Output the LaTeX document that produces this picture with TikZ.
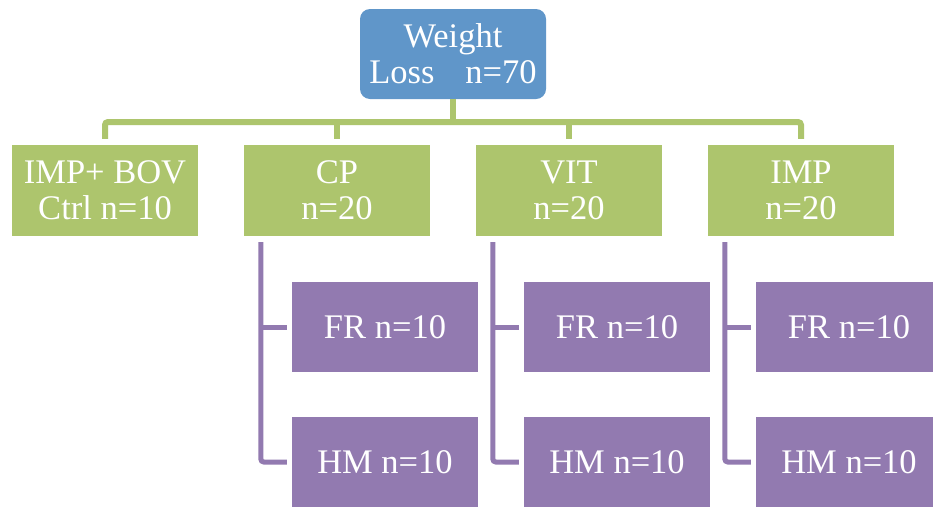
\documentclass[tikz,border=0pt]{standalone}
\usepackage{fontspec}
\setmainfont{Liberation Serif}
\definecolor{topblue}{RGB}{96,150,201}
\definecolor{boxgreen}{RGB}{173,197,109}
\definecolor{boxpurple}{RGB}{146,122,176}
\tikzset{
  txt/.style={text=white, align=center, inner sep=0pt, font=\fontsize{34.5}{36}\selectfont},
  topbox/.style={txt, fill=topblue, rounded corners=10pt, minimum width=186pt, minimum height=90pt},
  greenbox/.style={txt, fill=boxgreen, minimum width=186pt, minimum height=91pt},
  purplebox/.style={txt, fill=boxpurple, minimum width=186pt, minimum height=90pt},
  gline/.style={draw=boxgreen, line width=6pt, rounded corners=3pt},
  pline/.style={draw=boxpurple, line width=5pt, rounded corners=3pt},
}
\begin{document}
\begin{tikzpicture}[x=1pt,y=-1pt]
\clip (0,0) rectangle (933,507);
\fill[white] (0,0) rectangle (933,507);
\node[topbox] (top) at (453,54) {Weight\\Loss\hspace{0.9em}n=70};
\node[greenbox] (g1) at (105,190.5) {IMP+ BOV\\Ctrl n=10};
\node[greenbox] (g2) at (337,190.5) {CP\\n=20};
\node[greenbox] (g3) at (569,190.5) {VIT\\n=20};
\node[greenbox] (g4) at (801,190.5) {IMP\\n=20};
\node[purplebox] (f2) at (385,327) {FR n=10};
\node[purplebox] (h2) at (385,462) {HM n=10};
\node[purplebox] (f3) at (617,327) {FR n=10};
\node[purplebox] (h3) at (617,462) {HM n=10};
\node[purplebox] (f4) at (849,327) {FR n=10};
\node[purplebox] (h4) at (849,462) {HM n=10};
\coordinate (bus) at (453,122);
\draw[gline] (top.south) -- (bus);
\draw[gline] ([yshift=6pt]g1.north) |- (bus) -| ([yshift=6pt]g4.north);
\draw[gline] (bus -| g2.north) -- ([yshift=6pt]g2.north);
\draw[gline] (bus -| g3.north) -- ([yshift=6pt]g3.north);
\foreach \i in {2,3,4}{
  \coordinate (v\i) at ([xshift=17pt,yshift=-6pt]g\i.south west);
  \draw[pline] (v\i) |- ([xshift=-5pt]h\i.west);
  \draw[pline] (v\i |- f\i.west) -- ([xshift=-5pt]f\i.west);
}
\end{tikzpicture}
\end{document}
